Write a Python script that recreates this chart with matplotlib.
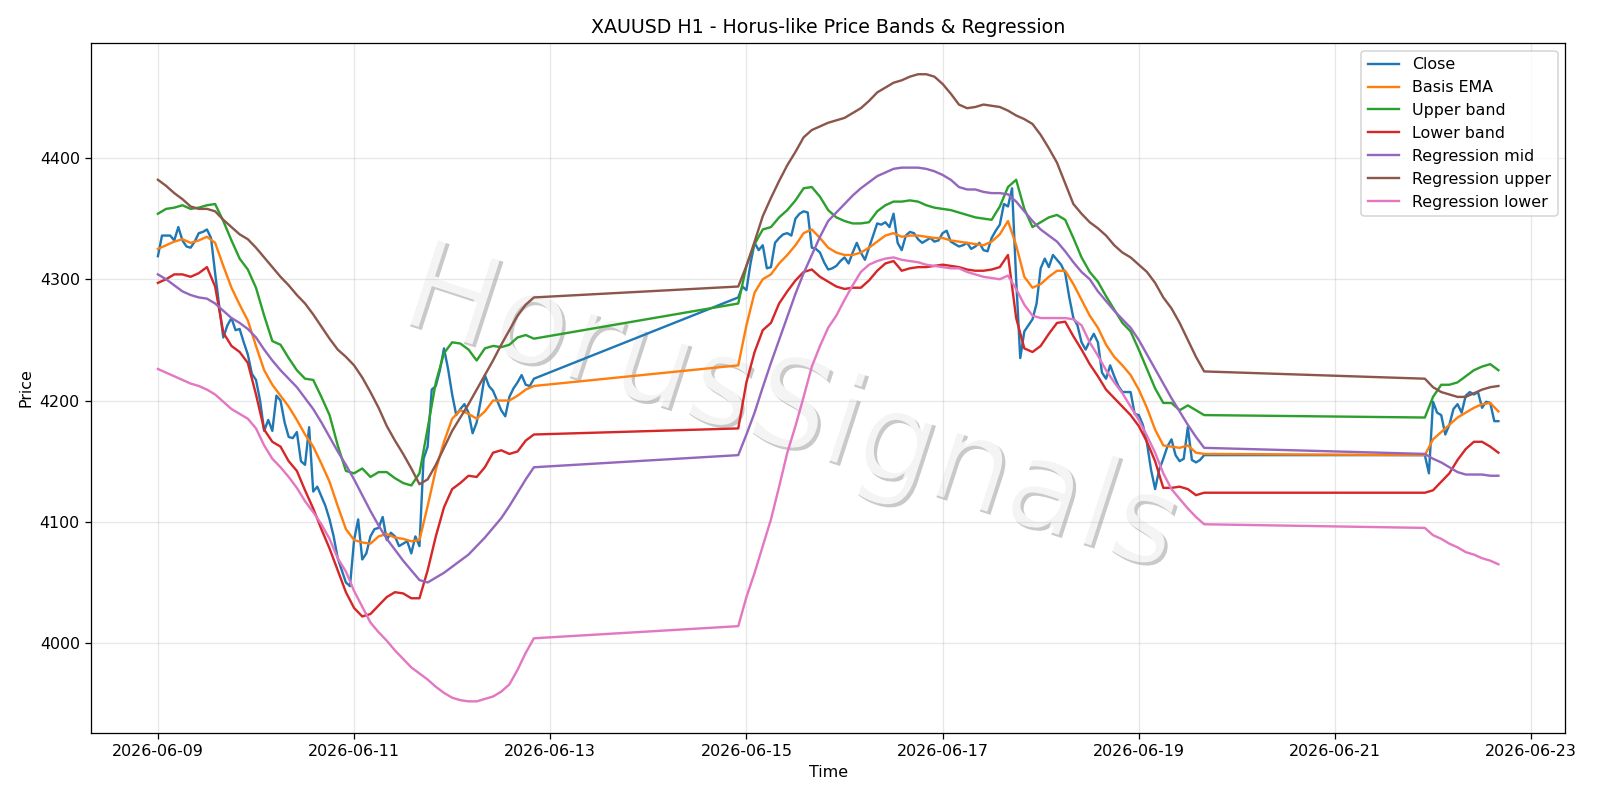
import pandas as pd
import matplotlib
matplotlib.use("Agg")
import matplotlib.pyplot as plt
import matplotlib.dates as mdates
import matplotlib.patheffects as pe

# trading sessions (hourly bars), weekend gaps in between
sessions = [("2026-06-09 00:00", "2026-06-12 20:00"),
            ("2026-06-14 22:00", "2026-06-19 16:00"),
            ("2026-06-21 22:00", "2026-06-22 16:00")]

# close, one value per hour
close = [
    # session 1
    4319, 4336, 4336, 4336, 4332, 4343, 4332, 4327, 4326, 4331,
    4338, 4339, 4341, 4334, 4305, 4278, 4252, 4262, 4268, 4258,
    4259, 4248, 4238, 4222, 4217, 4200, 4175, 4184, 4175, 4204,
    4200, 4182, 4170, 4169, 4174, 4150, 4147, 4178, 4125, 4129,
    4121, 4113, 4102, 4088, 4070, 4060, 4050, 4047, 4085, 4102,
    4069, 4074, 4088, 4094, 4095, 4104, 4085, 4091, 4088, 4080,
    4082, 4084, 4074, 4088, 4080, 4152, 4162, 4209, 4212, 4225,
    4243, 4226, 4205, 4188, 4193, 4197, 4190, 4173, 4182, 4200,
    4221, 4212, 4208, 4200, 4192, 4187, 4203, 4210, 4215, 4221,
    4213, 4212, 4218,
    # session 2
    4285, 4294, 4291, 4313, 4330, 4324, 4328, 4309, 4310, 4330,
    4334, 4337, 4338, 4336, 4350, 4354, 4356, 4355, 4326, 4325,
    4322, 4314, 4308, 4309, 4311, 4315, 4318, 4313, 4322, 4330,
    4322, 4316, 4326, 4336, 4346, 4345, 4347, 4343, 4354, 4330,
    4324, 4336, 4339, 4338, 4333, 4330, 4332, 4334, 4331, 4332,
    4338, 4340, 4331, 4329, 4327, 4328, 4330, 4325, 4327, 4330,
    4324, 4323, 4334, 4340, 4345, 4362, 4360, 4375, 4300, 4235,
    4257, 4262, 4267, 4280, 4309, 4317, 4310, 4320, 4316, 4312,
    4305, 4285, 4268, 4262, 4248, 4242, 4249, 4255, 4248, 4223,
    4218, 4229, 4220, 4212, 4207, 4207, 4207, 4189, 4188, 4180,
    4165, 4143, 4127, 4143, 4152, 4162, 4168, 4155, 4150, 4152,
    4178, 4151, 4149, 4151, 4155,
    # session 3
    4155, 4140, 4199, 4190, 4188, 4172, 4180, 4193, 4197, 4190,
    4204, 4207, 4205, 4207, 4194, 4199, 4198, 4183, 4183,
]

# band / regression lines, read every 2 hours
basis_ema = [
    4325, 4328, 4331, 4333, 4330, 4332, 4335, 4330, 4311, 4293,
    4279, 4266, 4245, 4225, 4213, 4204, 4195, 4184, 4172, 4162,
    4148, 4133, 4113, 4094, 4085, 4083, 4082, 4088, 4090, 4087,
    4086, 4084, 4085, 4113, 4143, 4166, 4185, 4192, 4189, 4185,
    4191, 4200, 4200, 4200, 4204, 4209, 4212,
    4229, 4262, 4289, 4300, 4304, 4313, 4320, 4328, 4338, 4341,
    4334, 4326, 4322, 4320, 4320, 4322, 4326, 4331, 4336, 4338,
    4335, 4336, 4336, 4335, 4334, 4334, 4332, 4331, 4330, 4329,
    4328, 4331, 4337, 4348, 4328, 4302, 4293, 4296, 4302, 4307,
    4307, 4296, 4283, 4270, 4260, 4246, 4236, 4229, 4221, 4209,
    4194, 4176, 4163, 4162, 4161, 4163, 4157, 4156,
    4155, 4168, 4174, 4180, 4186, 4190, 4194, 4197, 4198, 4191,
]
upper_band = [
    4354, 4358, 4359, 4361, 4358, 4359, 4361, 4362, 4348, 4332,
    4317, 4308, 4293, 4270, 4249, 4246, 4235, 4225, 4218, 4217,
    4203, 4188, 4163, 4142, 4140, 4144, 4137, 4141, 4141, 4136,
    4132, 4130, 4140, 4177, 4215, 4239, 4248, 4247, 4242, 4233,
    4243, 4245, 4244, 4246, 4252, 4254, 4251,
    4280, 4311, 4329, 4341, 4343, 4351, 4357, 4365, 4375, 4376,
    4368, 4357, 4351, 4348, 4346, 4346, 4347, 4356, 4361, 4364,
    4364, 4365, 4364, 4361, 4359, 4358, 4357, 4355, 4353, 4351,
    4350, 4349, 4360, 4376, 4382, 4358, 4343, 4347, 4351, 4353,
    4349, 4334, 4318, 4306, 4298, 4286, 4275, 4264, 4257, 4242,
    4226, 4210, 4198, 4198, 4192, 4196, 4192, 4188,
    4186, 4203, 4213, 4213, 4215, 4220, 4225, 4228, 4230, 4225,
]
lower_band = [
    4297, 4300, 4304, 4304, 4302, 4305, 4310, 4294, 4256, 4245,
    4240, 4231, 4205, 4176, 4166, 4162, 4150, 4142, 4126, 4111,
    4094, 4078, 4060, 4042, 4029, 4022, 4024, 4031, 4038, 4042,
    4041, 4037, 4037, 4060, 4088, 4112, 4127, 4132, 4138, 4137,
    4145, 4157, 4159, 4156, 4158, 4167, 4172,
    4177, 4215, 4240, 4258, 4264, 4280, 4290, 4299, 4306, 4308,
    4302, 4298, 4294, 4292, 4293, 4293, 4299, 4307, 4313, 4315,
    4307, 4309, 4310, 4310, 4311, 4312, 4311, 4310, 4308, 4307,
    4307, 4308, 4310, 4320, 4268, 4243, 4240, 4245, 4255, 4264,
    4265, 4253, 4242, 4230, 4220, 4209, 4202, 4195, 4188, 4179,
    4166, 4150, 4128, 4128, 4129, 4127, 4122, 4124,
    4124, 4126, 4133, 4140, 4151, 4160, 4166, 4166, 4162, 4157,
]
reg_mid = [
    4304, 4300, 4295, 4290, 4287, 4285, 4284, 4280, 4274, 4268,
    4264, 4259, 4252, 4242, 4233, 4225, 4218, 4211, 4202, 4193,
    4182, 4170, 4158, 4147, 4135, 4122, 4109, 4097, 4086, 4077,
    4068, 4060, 4052, 4050, 4054, 4058, 4063, 4068, 4073, 4080,
    4087, 4095, 4103, 4113, 4124, 4135, 4145,
    4155, 4172, 4190, 4211, 4231, 4250, 4269, 4288, 4305, 4320,
    4335, 4348, 4355, 4362, 4369, 4375, 4380, 4385, 4388, 4391,
    4392, 4392, 4392, 4391, 4389, 4386, 4382, 4376, 4374, 4374,
    4372, 4371, 4371, 4370, 4364, 4356, 4348, 4341, 4336, 4331,
    4323, 4314, 4306, 4300, 4290, 4282, 4274, 4267, 4260, 4250,
    4238, 4226, 4214, 4202, 4191, 4180, 4170, 4161,
    4156, 4152, 4149, 4145, 4141, 4139, 4139, 4139, 4138, 4138,
]
reg_upper = [
    4382, 4377, 4371, 4366, 4360, 4358, 4358, 4356, 4349, 4343,
    4337, 4333, 4326, 4318, 4310, 4302, 4295, 4287, 4280, 4271,
    4261, 4251, 4242, 4236, 4229, 4219, 4207, 4194, 4179, 4167,
    4156, 4144, 4131, 4135, 4147, 4161, 4175, 4186, 4197, 4209,
    4221, 4233, 4246, 4258, 4270, 4279, 4285,
    4294, 4311, 4331, 4352, 4367, 4381, 4394, 4405, 4417, 4423,
    4426, 4429, 4431, 4433, 4437, 4441, 4447, 4454, 4458, 4462,
    4464, 4467, 4469, 4469, 4467, 4461, 4453, 4444, 4441, 4442,
    4444, 4443, 4442, 4439, 4435, 4432, 4428, 4419, 4408, 4396,
    4379, 4362, 4354, 4347, 4342, 4336, 4328, 4322, 4318, 4312,
    4306, 4297, 4285, 4276, 4264, 4250, 4236, 4224,
    4218, 4211, 4207, 4205, 4203, 4203, 4206, 4209, 4211, 4212,
]
reg_lower = [
    4226, 4223, 4220, 4217, 4214, 4212, 4209, 4205, 4199, 4193,
    4189, 4185, 4177, 4163, 4152, 4145, 4137, 4128, 4117, 4108,
    4098, 4086, 4070, 4059, 4043, 4030, 4017, 4009, 4002, 3994,
    3987, 3980, 3975, 3970, 3964, 3959, 3955, 3953, 3952, 3952,
    3954, 3956, 3960, 3966, 3978, 3992, 4004,
    4014, 4038, 4058, 4080, 4102, 4129, 4157, 4179, 4203, 4228,
    4245, 4260, 4270, 4283, 4295, 4306, 4312, 4315, 4317, 4318,
    4316, 4315, 4314, 4312, 4311, 4310, 4309, 4309, 4306, 4304,
    4302, 4301, 4300, 4303, 4292, 4279, 4270, 4268, 4268, 4268,
    4268, 4267, 4262, 4248, 4237, 4225, 4215, 4206, 4195, 4184,
    4171, 4157, 4140, 4127, 4119, 4111, 4104, 4098,
    4095, 4089, 4086, 4082, 4079, 4075, 4073, 4070, 4068, 4065,
]

t_1h = pd.DatetimeIndex([t for a, b in sessions for t in pd.date_range(a, b, freq="h")])
t_2h = pd.DatetimeIndex([t for a, b in sessions for t in pd.date_range(a, b, freq="2h")])

fig, ax = plt.subplots(figsize=(14, 7), dpi=800 / 7)

ax.plot(t_1h, close, label="Close")
ax.plot(t_2h, basis_ema, label="Basis EMA")
ax.plot(t_2h, upper_band, label="Upper band")
ax.plot(t_2h, lower_band, label="Lower band")
ax.plot(t_2h, reg_mid, label="Regression mid")
ax.plot(t_2h, reg_upper, label="Regression upper")
ax.plot(t_2h, reg_lower, label="Regression lower")

# watermark
ax.text(0.474, 0.466, "HorusSignals", transform=ax.transAxes, fontsize=78,
        color="white", alpha=0.8, rotation=-18, ha="center", va="center",
        zorder=0, path_effects=[pe.withSimplePatchShadow()])

ax.set_title("XAUUSD H1 - Horus-like Price Bands & Regression")
ax.set_xlabel("Time")
ax.set_ylabel("Price")
ax.xaxis.set_major_locator(mdates.DayLocator(interval=2))
ax.xaxis.set_major_formatter(mdates.DateFormatter("%Y-%m-%d"))
ax.grid(True, alpha=0.3)
ax.legend(loc="upper right")

plt.subplots_adjust(left=0.0568, right=0.9784, top=0.9464, bottom=0.0841)
plt.savefig("out.png")
